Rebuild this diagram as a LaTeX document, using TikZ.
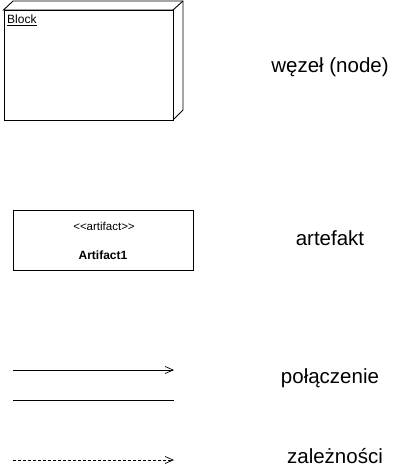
\documentclass[tikz,border=0pt]{standalone}
\usepackage{fontspec}
\setmainfont{Liberation Sans}
\usetikzlibrary{positioning,arrows.meta}

\begin{document}
\begin{tikzpicture}[x=1pt, y=-1pt,
    label/.style={font=\fontsize{20.5}{24}\selectfont},
    small/.style={font=\fontsize{12}{14}\selectfont},
    face/.style={draw, line width=0.9pt, fill=white},
    link/.style={line width=0.9pt},
    tip/.style={-{Straight Barb[length=8pt, width=7pt, line width=0.7pt]}}]

    \useasboundingbox (0,0) rectangle (410,475);

    % node (3D box)
    \draw[face] (3.5,10) -- (13,1) -- (183,1) -- (183,110) -- (173,120) -- (173,10) -- cycle;
    \draw[face] (173,10) -- (183,1);
    \node[face, minimum width=169.5pt, minimum height=110pt, anchor=north west,
          inner sep=0pt] (blk) at (3.5,10) {};
    \node[small, anchor=north west, inner sep=0pt] (blkname) at (7,15) {\underline{Block}};

    % artifact
    \node[face, minimum width=180pt, minimum height=60pt, anchor=north west,
          inner sep=0pt] (art) at (13,210) {};
    \node[font=\fontsize{11.5}{13}\selectfont] (stereo) at (104,226) {<{}<artifact>{}>};
    \node[font=\bfseries\fontsize{12}{14}\selectfont] (artname) at (103,255) {Artifact1};

    % connector ends
    \coordinate (c1a) at (13,370);
    \coordinate (c1b) at (174,370);
    \coordinate (c2a) at (13,400);
    \coordinate (c2b) at (174,400);
    \coordinate (d1a) at (13,460);
    \coordinate (d1b) at (174,460);

    \draw[link, tip] (c1a) -- (c1b);
    \draw[link] (c2a) -- (c2b);
    \draw[link, tip, dash pattern=on 3pt off 2pt] (d1a) -- (d1b);

    % legend texts
    \node[label] (lnode) at (330,67) {węzeł (node)};
    \node[label] (lart) at (330,238) {artefakt};
    \node[label] (lconn) at (330,378) {połączenie};
    \node[label] (ldep) at (335,456) {zależności};

\end{tikzpicture}
\end{document}
